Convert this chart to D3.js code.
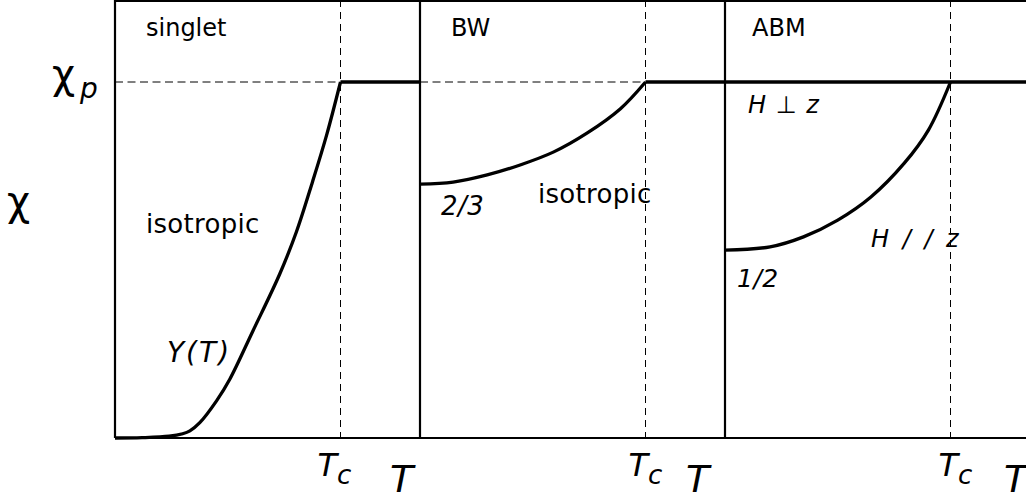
<!DOCTYPE html>
<html>
<head>
<meta charset="utf-8">
<script src="https://cdn.jsdelivr.net/npm/d3@7"></script>
<style>
  html, body { margin: 0; padding: 0; background: #fff; }
  svg { display: block; }
  text { font-family: "DejaVu Sans", sans-serif; fill: #000; }
</style>
</head>
<body>
<svg id="chart" width="1026" height="500"></svg>
<script>
// ---- data (T in units of Tc, chi in units of chi_p) ----
const panelNames = ["singlet", "BW", "ABM"];
const tSinglet   = [0, 0.12, 0.24, 0.30, 0.332, 0.376, 0.451, 0.509, 0.611, 0.730, 0.805, 0.876, 0.938, 1.0];
const chiSinglet = [0, 0.001, 0.005, 0.012, 0.02, 0.043, 0.105, 0.165, 0.30, 0.46, 0.58, 0.72, 0.85, 1.0];
const tBW   = [0, 0.147, 0.298, 0.444, 0.591, 0.742, 0.889, 1.0];
const chiBW = [0.713, 0.719, 0.739, 0.767, 0.803, 0.857, 0.925, 1.0];
const tABM   = [0, 0.2, 0.348, 0.5, 0.647, 0.795, 0.902, 1.0];
const chiABM = [0.528, 0.537, 0.565, 0.612, 0.677, 0.772, 0.865, 1.0];
const chiNormal = 1;      // chi_p
const tc = 1;             // Tc
const tMax = 1.3525;      // right edge of each panel

const svg = d3.select("#chart");
const left = 115, panelW = 305, yBottom = 438, yP = 82;

const y = d3.scaleLinear().domain([0, 1]).range([yBottom, yP]);
const xs = panelNames.map((n, i) =>
  d3.scaleLinear().domain([0, tMax]).range([left + i * panelW, left + (i + 1) * panelW]));

const line = (xScale) => d3.line().x(d => xScale(d[0])).y(d => y(d[1])).curve(d3.curveCatmullRom.alpha(0.5));
const lin = (xScale) => d3.line().x(d => xScale(d[0])).y(d => y(d[1]));

// dashed guides
xs.forEach((x, i) => {
  svg.append("line").attr("x1", x(tc)).attr("x2", x(tc)).attr("y1", 0).attr("y2", yBottom)
    .attr("stroke", "#000").attr("stroke-width", 1).attr("stroke-dasharray", "7,5");
  if (i < 2) {
    svg.append("line").attr("x1", x(0)).attr("x2", x(tc)).attr("y1", y(chiNormal)).attr("y2", y(chiNormal))
      .attr("stroke", "#000").attr("stroke-width", 1).attr("stroke-dasharray", "8,4.5");
  }
});

// frame
const frame = svg.append("g").attr("stroke", "#000").attr("stroke-width", 2.2);
frame.append("line").attr("x1", left).attr("x2", 1026).attr("y1", 1).attr("y2", 1);
frame.append("line").attr("x1", left).attr("x2", 1026).attr("y1", yBottom).attr("y2", yBottom);
xs.forEach(x => {
  frame.append("line").attr("x1", x(0)).attr("x2", x(0)).attr("y1", 0).attr("y2", yBottom);
});

// curves
const series = [
  d3.zip(tSinglet, chiSinglet),
  d3.zip(tBW, chiBW),
  d3.zip(tABM, chiABM)
];
series.forEach((s, i) => {
  svg.append("path").attr("d", line(xs[i])(s))
    .attr("fill", "none").attr("stroke", "#000").attr("stroke-width", 3.3).attr("stroke-linejoin", "round");
  const normStart = i === 2 ? 0 : tc;
  svg.append("path").attr("d", lin(xs[i])([[normStart, chiNormal], [tMax, chiNormal]]))
    .attr("fill", "none").attr("stroke", "#000").attr("stroke-width", 3.3);
});

// panel titles
const titleX = [146, 451, 752];
panelNames.forEach((n, i) => {
  svg.append("text").attr("x", titleX[i]).attr("y", 36).attr("font-size", 24).text(n);
});

// labels
function txt(x, yy, s, size, italic, ls) {
  return svg.append("text").attr("x", x).attr("y", yy).attr("font-size", size)
    .attr("font-style", italic ? "italic" : "normal")
    .attr("letter-spacing", ls || 0).text(s);
}
txt(146, 233, "isotropic", 26, false, 0.3);
txt(538, 203, "isotropic", 26, false, 0.3);
txt(167, 362, "Y(T)", 28, true, 2);
txt(441, 215, "2/3", 26, true, 0.5);
txt(737, 287, "1/2", 25, true, 0.5);
txt(748, 113, "H \u22A5 z", 24, true, 1);
txt(871, 247, "H / / z", 24, true, 0).attr("word-spacing", 6);

// chi labels
txt(7, 215, "\u03C7", 40, false);
const cp = svg.append("text").attr("x", 52).attr("y", 88).attr("font-size", 40);
cp.append("tspan").text("\u03C7");
cp.append("tspan").attr("dx", 5).attr("dy", 10).attr("font-size", 28).attr("font-style", "italic").text("p");

// T labels
const tcOffset = [-23, -17, -12];
const bigTX = [390, 686, 1004];
xs.forEach((x, i) => {
  const t = svg.append("text").attr("x", x(tc) + tcOffset[i]).attr("y", 476).attr("font-size", 32).attr("font-style", "italic");
  t.append("tspan").text("T");
  t.append("tspan").attr("dy", 8).attr("font-size", 26).text("c");
  svg.append("text").attr("x", bigTX[i]).attr("y", 492).attr("font-size", 38).attr("font-style", "italic").text("T");
});
</script>
</body>
</html>
